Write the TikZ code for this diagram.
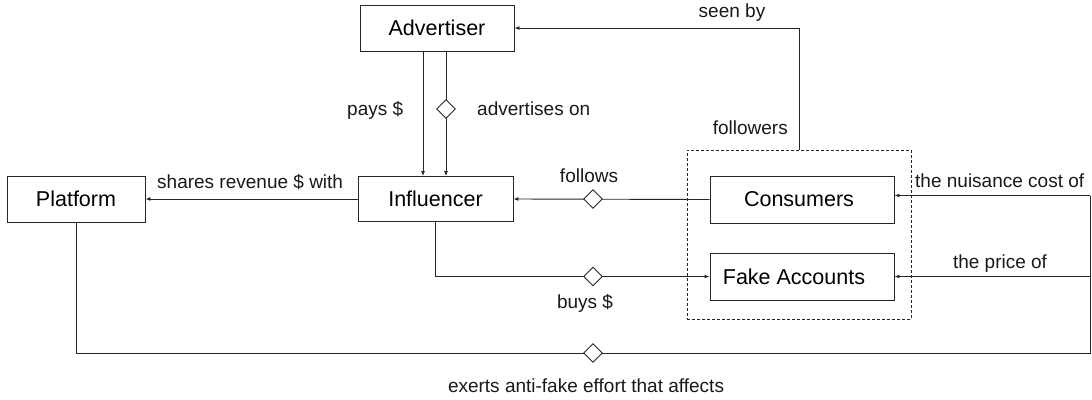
\documentclass[tikz,border=0pt]{standalone}
\usepackage{fontspec}
\setmainfont{Liberation Sans}
\usetikzlibrary{shapes.geometric,arrows.meta,calc}
\begin{document}
\begin{tikzpicture}[x=1pt,y=-1pt,
  box/.style={draw=black!85,line width=0.9pt,inner sep=0pt,font=\fontsize{21.5}{26}\selectfont},
  lbl/.style={font=\fontsize{19}{22}\selectfont,inner sep=0pt,text=black!90},
  ln/.style={draw=black!85,line width=0.9pt},
  arr/.style={draw=black!85,line width=0.9pt,-{Latex[length=5pt,width=4pt]}},
  dmd/.style={diamond,draw=black!85,fill=white,line width=0.9pt,minimum width=19pt,minimum height=19pt,inner sep=0pt}]
\useasboundingbox (0,0) rectangle (1092,399);
% boxes
\node[box,minimum width=154pt,minimum height=46pt] (adv) at (437,28) {Advertiser};
\node[box,minimum width=155pt,minimum height=45pt] (inf) at (435.5,199) {Influencer};
\node[box,minimum width=138pt,minimum height=46pt] (plat) at (76,199) {Platform};
\node[box,minimum width=184pt,minimum height=47pt] (cons) at (802,199.5) {Consumers\hspace*{6pt}};
\node[box,minimum width=184pt,minimum height=47pt] (fake) at (802,276.5) {Fake Accounts\hspace*{16pt}};
\node[draw=black!85,line width=0.9pt,dash pattern=on 3pt off 2pt,minimum width=224pt,minimum height=169pt,inner sep=0pt] (grp) at (799,234.5) {};
% coordinates
\coordinate (rt) at (1090,195.5);
\coordinate (rb) at (1090,353);
% connectors
\draw[arr] ([xshift=-14pt]adv.south) -- ([xshift=-14pt]adv.south |- inf.north);
\draw[arr] ([xshift=9pt]adv.south) -- ([xshift=9pt]adv.south |- inf.north);
\draw[arr] (cons.west) -- (inf.west -| inf.east);
\draw[arr] (inf.west) -- (plat.east);
\draw[arr] (inf.south) |- (fake.west);
\draw[arr] (grp.north) |- (adv.east);
\draw[ln] (plat.south) |- (rb) -- (rt);
\draw[arr] (rt) -- (rt -| cons.east);
\draw[arr] (rt |- fake.east) -- (fake.east);
% diamonds
\node[dmd] (d1) at (446,109) {};
\node[dmd] (d2) at (593,199) {};
\node[dmd] (d3) at (593,276.5) {};
\node[dmd] (d4) at (593,353) {};
% labels
\node[lbl,anchor=base] (l1) at (732,17) {seen by};
\node[lbl,anchor=base east] (l2) at (788,134) {followers};
\node[lbl,anchor=base west] (l3) at (347,115) {pays \$};
\node[lbl,anchor=base west] (l4) at (477,115) {advertises on};
\node[lbl,anchor=base] (l5) at (589,182) {follows};
\node[lbl,anchor=base west] (l6) at (157,188) {shares revenue \$ with};
\node[lbl,anchor=base west] (l7) at (915,187) {the nuisance cost of};
\node[lbl,anchor=base] (l8) at (1000,268) {the price of};
\node[lbl,anchor=base] (l9) at (585,308) {buys \$};
\node[lbl,anchor=base] (l10) at (586,392) {exerts anti-fake effort that affects};
\end{tikzpicture}
\end{document}
